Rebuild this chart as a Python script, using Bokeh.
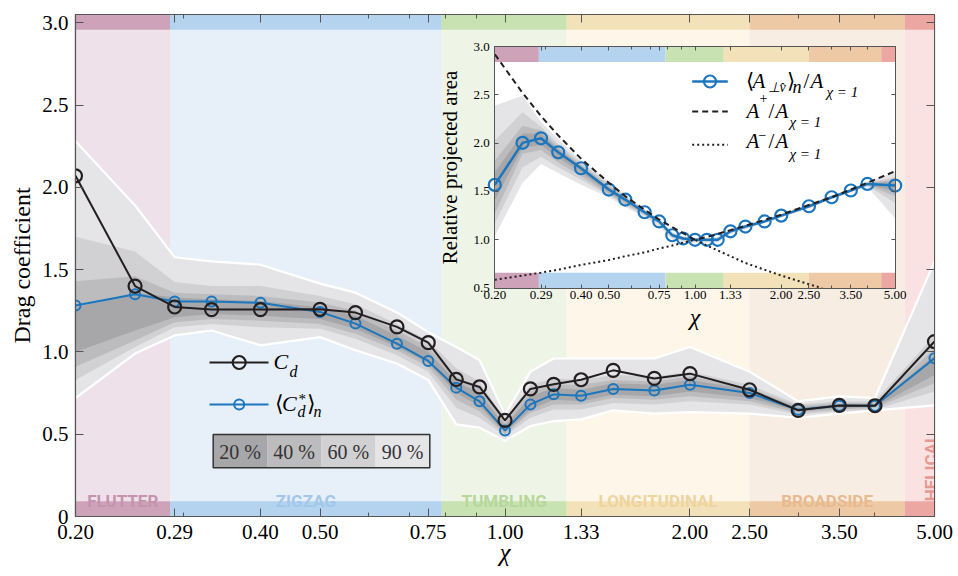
import numpy as np
from bokeh.plotting import figure
from bokeh.models import (Range1d, LogScale, LinearScale, LogAxis, LinearAxis, FixedTicker,
                          PrintfTickFormatter, CustomLabelingPolicy)
from bokeh.embed import file_html
from bokeh.resources import INLINE
from bokeh.core.properties import value

# ---------------- data ----------------
chi = [0.2, 0.25, 0.29, 0.333, 0.4, 0.5, 0.571, 0.667, 0.75, 0.833, 0.909, 1.0,
       1.1, 1.2, 1.33, 1.5, 1.75, 2.0, 2.5, 3.0, 3.5, 4.0, 5.0]
cd = [2.07, 1.40, 1.273, 1.257, 1.257, 1.259, 1.239, 1.152, 1.056, 0.833, 0.787, 0.584,
      0.775, 0.803, 0.831, 0.888, 0.839, 0.868, 0.770, 0.645, 0.675, 0.673, 1.063]
cd_star = [1.282, 1.350, 1.306, 1.306, 1.298, 1.243, 1.172, 1.050, 0.945, 0.783, 0.700, 0.523,
           0.681, 0.742, 0.734, 0.775, 0.766, 0.801, 0.750, 0.649, 0.673, 0.673, 0.961]
cd_hi90 = [2.28, 1.89, 1.575, 1.55, 1.53, 1.415, 1.36, 1.24, 1.12, 1.03, 0.95, 0.62,
           0.88, 0.96, 0.96, 0.96, 0.96, 1.03, 0.88, 0.70, 0.73, 0.72, 1.55]
cd_hi60 = [1.70, 1.61, 1.425, 1.40, 1.40, 1.34, 1.29, 1.17, 1.07, 0.90, 0.82, 0.59,
           0.80, 0.84, 0.83, 0.86, 0.85, 0.88, 0.80, 0.68, 0.70, 0.70, 1.10]
cd_hi40 = [1.43, 1.46, 1.36, 1.35, 1.34, 1.30, 1.25, 1.13, 1.03, 0.85, 0.78, 0.57,
           0.76, 0.80, 0.80, 0.83, 0.82, 0.85, 0.78, 0.67, 0.69, 0.69, 1.02]
cd_hi20 = [1.27, 1.36, 1.33, 1.32, 1.31, 1.27, 1.22, 1.10, 1.00, 0.82, 0.75, 0.55,
           0.73, 0.78, 0.77, 0.81, 0.80, 0.83, 0.77, 0.66, 0.68, 0.68, 0.98]
cd_lo20 = [1.00, 1.13, 1.21, 1.23, 1.22, 1.20, 1.14, 1.03, 0.93, 0.75, 0.67, 0.51,
           0.65, 0.71, 0.70, 0.74, 0.73, 0.76, 0.72, 0.64, 0.66, 0.665, 0.86]
cd_lo40 = [0.91, 1.07, 1.18, 1.20, 1.19, 1.17, 1.11, 1.01, 0.91, 0.71, 0.64, 0.50,
           0.63, 0.68, 0.68, 0.72, 0.71, 0.73, 0.70, 0.63, 0.65, 0.66, 0.81]
cd_lo60 = [0.83, 1.03, 1.15, 1.17, 1.15, 1.14, 1.08, 0.98, 0.88, 0.66, 0.60, 0.49,
           0.60, 0.65, 0.65, 0.69, 0.68, 0.70, 0.68, 0.62, 0.64, 0.65, 0.76]
cd_lo90 = [0.72, 0.99, 1.10, 1.13, 1.04, 1.09, 1.01, 0.93, 0.83, 0.56, 0.54, 0.46,
           0.55, 0.58, 0.59, 0.645, 0.625, 0.634, 0.625, 0.60, 0.625, 0.645, 0.675]

area = [1.568, 2.003, 2.05, 1.905, 1.74, 1.52, 1.416, 1.285, 1.19, 1.047, 1.013, 1.0,
        1.0, 1.0, 1.088, 1.137, 1.19, 1.25, 1.347, 1.44, 1.51, 1.578, 1.561]
area_hi90 = [2.39, 2.49, 2.22, 2.04, 1.82, 1.60, 1.47, 1.32, 1.22, 1.08, 1.04, 1.02,
             1.02, 1.03, 1.11, 1.16, 1.21, 1.27, 1.37, 1.46, 1.53, 1.60, 1.70]
area_hi60 = [2.03, 2.32, 2.17, 1.99, 1.80, 1.58, 1.45, 1.31, 1.21, 1.07, 1.03, 1.01,
             1.01, 1.02, 1.10, 1.15, 1.20, 1.26, 1.36, 1.45, 1.52, 1.59, 1.65]
area_hi40 = [1.82, 2.18, 2.13, 1.96, 1.78, 1.56, 1.44, 1.30, 1.20, 1.06, 1.025, 1.005,
             1.005, 1.01, 1.095, 1.145, 1.195, 1.255, 1.355, 1.45, 1.52, 1.59, 1.62]
area_hi20 = [1.70, 2.10, 2.10, 1.94, 1.76, 1.54, 1.43, 1.295, 1.195, 1.055, 1.02, 1.0,
             1.0, 1.005, 1.09, 1.14, 1.19, 1.25, 1.35, 1.445, 1.515, 1.585, 1.60]
area_lo20 = [1.41, 1.95, 1.98, 1.85, 1.70, 1.49, 1.39, 1.27, 1.18, 1.04, 1.005, 0.995,
             0.995, 0.995, 1.08, 1.13, 1.185, 1.245, 1.34, 1.435, 1.505, 1.57, 1.50]
area_lo40 = [1.27, 1.89, 1.93, 1.80, 1.66, 1.47, 1.37, 1.26, 1.17, 1.03, 1.0, 0.99,
             0.99, 0.99, 1.075, 1.125, 1.18, 1.24, 1.335, 1.43, 1.50, 1.565, 1.45]
area_lo60 = [1.17, 1.75, 1.86, 1.75, 1.62, 1.46, 1.36, 1.25, 1.16, 1.02, 0.99, 0.98,
             0.98, 0.98, 1.07, 1.12, 1.175, 1.235, 1.33, 1.425, 1.495, 1.56, 1.38]
area_lo90 = [1.04, 1.59, 1.785, 1.69, 1.57, 1.44, 1.34, 1.23, 1.14, 1.00, 0.97, 0.97,
             0.97, 0.97, 1.06, 1.11, 1.17, 1.23, 1.325, 1.42, 1.49, 1.55, 1.22]

a_plus = [2.92, 2.52, 2.28, 2.08, 1.84, 1.59, 1.45, 1.31, 1.21, 1.13, 1.07, 1.0,
          1.03, 1.06, 1.10, 1.145, 1.205, 1.26, 1.36, 1.44, 1.52, 1.59, 1.71]
chi_minus = [0.2, 0.25, 0.29, 0.333, 0.4, 0.5, 0.571, 0.667, 0.75, 0.833, 0.909, 1.0,
             1.1, 1.2, 1.33, 1.5, 1.75, 2.0, 2.5, 2.78]
a_minus = [0.585, 0.63, 0.66, 0.69, 0.74, 0.79, 0.83, 0.87, 0.91, 0.94, 0.97, 1.0,
           0.94, 0.89, 0.83, 0.76, 0.69, 0.63, 0.54, 0.50]

regime_names = ["FLUTTER", "ZIGZAG", "TUMBLING", "LONGITUDINAL", "BROADSIDE", "HELICAL"]
regime_edges = [0.2, 0.285, 0.789, 1.26, 2.5, 4.47, 5.0]

x_ticks = [0.2, 0.29, 0.4, 0.5, 0.75, 1.0, 1.33, 2.0, 2.5, 3.5, 5.0]
x_minor = [0.3, 0.6, 0.7, 0.8, 0.9, 3.0, 4.0]
y_ticks = [0, 0.5, 1.0, 1.5, 2.0, 2.5, 3.0]
inset_y_ticks = [0.5, 1.0, 1.5, 2.0, 2.5, 3.0]
pct_labels = ["20 %", "40 %", "60 %", "90 %"]

# ---------------- style ----------------
SERIF = "Liberation Serif"
BLACK = "#231f20"
BLUE = "#1b76bd"
AXC = "#555555"
REG_BG = ["#efe1e9", "#e7f0f9", "#eef5e6", "#fdf6e9", "#f8ede2", "#f9e2e1"]
REG_STRIP = ["#cea3b9", "#b3d3ef", "#c9e2b1", "#f3e2b9", "#eec9a6", "#eca7a2"]
REG_TEXT = ["#c493ad", "#a2c7eb", "#b7d79c", "#eed49f", "#e8ba90", "#e69893"]
BAND = {"90": "#e5e5e7", "60": "#d1d1d3", "40": "#bcbcbe", "20": "#a7a7aa"}
COND = value("Roboto")

# page-pixel layout of the frames
FL, FR, FT, FB = 75.0, 934.0, 14.0, 516.0
IL, IR, IT, IB = 494.3, 894.7, 46.0, 287.6
YMAX = 3.05
STRIP = 0.092

W, H = 958, 576
p = figure(width=W, height=H, x_axis_type="log",
           x_range=Range1d(0.2, 5.0), y_range=Range1d(0, YMAX),
           output_backend="svg", toolbar_location=None,
           min_border_left=int(FL), min_border_right=int(W - FR),
           min_border_top=int(FT), min_border_bottom=int(H - FB))
p.xgrid.visible = False
p.ygrid.visible = False
p.outline_line_color = AXC
p.outline_line_width = 1.2
p.background_fill_color = "white"
p.border_fill_color = "white"

# inset coordinate systems (log x / linear y) and page-pixel coordinates
lx0, lx1 = np.log10(0.2), np.log10(5.0)
kx = (lx1 - lx0) / (IR - IL)
ix_start = 10 ** (lx0 - (IL - FL) * kx)
ix_end = 10 ** (lx1 + (FR - IR) * kx)
ky = (3.0 - 0.5) / (IB - IT)
iy_start = 0.5 - (FB - IB) * ky
iy_end = 3.0 + (IT - FT) * ky
p.extra_x_ranges = {"px": Range1d(FL, FR), "ix": Range1d(ix_start, ix_end)}
p.extra_x_scales = {"px": LinearScale(), "ix": LogScale()}
p.extra_y_ranges = {"py": Range1d(FB, FT), "iy": Range1d(iy_start, iy_end)}
p.extra_y_scales = {"py": LinearScale(), "iy": LinearScale()}
PX = dict(x_range_name="px", y_range_name="py")
IN = dict(x_range_name="ix", y_range_name="iy")

hide_labels = dict(
    major_label_text_font_size="1px", major_label_standoff=0,
    major_label_policy=CustomLabelingPolicy(
        code="for (const i of Array.from(indices)) { indices.unset(i) }\nreturn indices"))

# ---------------- main axes ----------------
xa = p.xaxis[0]
xa.ticker = FixedTicker(ticks=x_ticks, minor_ticks=x_minor)
xa.formatter = PrintfTickFormatter(format="%.2f")
xa.axis_label = "χ"
xa.axis_label_text_font = SERIF
xa.axis_label_text_font_size = "25px"
xa.axis_label_text_font_style = "italic"
xa.axis_label_text_color = "black"
xa.axis_label_standoff = -3
ya = p.yaxis[0]
ya.ticker = FixedTicker(ticks=y_ticks)
ya.formatter = PrintfTickFormatter(format="%.1f")
ya.major_label_overrides = {0: "0"}
ya.axis_label = "Drag coefficient"
ya.axis_label_text_font = SERIF
ya.axis_label_text_font_size = "24px"
ya.axis_label_text_font_style = "normal"
ya.axis_label_text_color = "black"
ya.axis_label_standoff = 4
for ax in (xa, ya):
    ax.major_label_text_font = SERIF
    ax.major_label_text_font_size = "21px"
    ax.major_label_text_color = "black"
    ax.major_label_standoff = 7
    ax.axis_line_color = AXC
    ax.axis_line_width = 1.2
    ax.major_tick_line_color = AXC
    ax.minor_tick_line_color = AXC
    ax.major_tick_in = 8
    ax.major_tick_out = 0
    ax.minor_tick_in = 4
    ax.minor_tick_out = 0
xa.major_label_standoff = 8
ya.minor_tick_in = 0

top_ax = LogAxis(ticker=FixedTicker(ticks=x_ticks, minor_ticks=x_minor),
                 major_tick_in=8, major_tick_out=0, minor_tick_in=4, minor_tick_out=0,
                 axis_line_color=AXC, major_tick_line_color=AXC, minor_tick_line_color=AXC,
                 **hide_labels)
p.add_layout(top_ax, "above")
right_ax = LinearAxis(ticker=FixedTicker(ticks=y_ticks),
                      major_tick_in=8, major_tick_out=0, minor_tick_in=0, minor_tick_out=0,
                      axis_line_color=AXC, major_tick_line_color=AXC, **hide_labels)
p.add_layout(right_ax, "right")

# ---------------- regimes ----------------
lefts = regime_edges[:-1]
rights = regime_edges[1:]
p.quad(left=lefts, right=rights, bottom=0, top=YMAX, fill_color=REG_BG, line_color=None)
p.quad(left=lefts, right=rights, bottom=0, top=STRIP, fill_color=REG_STRIP, line_color=None)
p.quad(left=lefts, right=rights, bottom=YMAX - STRIP, top=YMAX, fill_color=REG_STRIP, line_color=None)

centers = [float(np.sqrt(a * b)) for a, b in zip(lefts[:-1], rights[:-1])]
p.text(x=centers, y=[STRIP] * len(centers), text=regime_names[:-1],
       text_color=REG_TEXT[:-1], text_font=COND, text_font_style="bold",
       text_font_size="17px", text_align="center", text_baseline="alphabetic", y_offset=0)
p.text(x=[rights[-1]], y=[STRIP], text=[regime_names[-1]], angle=np.pi / 2,
       text_color=REG_TEXT[-1], text_font=COND, text_font_style="bold",
       text_font_size="17px", text_align="left", text_baseline="alphabetic", x_offset=-4, y_offset=0)

# ---------------- main bands and lines ----------------
for key, lo, hi in [("90", cd_lo90, cd_hi90), ("60", cd_lo60, cd_hi60),
                    ("40", cd_lo40, cd_hi40), ("20", cd_lo20, cd_hi20)]:
    p.varea(x=chi, y1=lo, y2=hi, fill_color=BAND[key])
p.line(chi, cd_hi90, line_color="white", line_width=2.2)
p.line(chi, cd_lo90, line_color="white", line_width=2.2)

p.line(chi, cd_star, line_color=BLUE, line_width=2)
p.scatter(chi, cd_star, marker="circle", size=10, fill_alpha=0, line_color=BLUE, line_width=2)
p.line(chi, cd, line_color=BLACK, line_width=2)
p.scatter(chi, cd, marker="circle", size=13, fill_alpha=0, line_color=BLACK, line_width=2.2)

# ---------------- main legend ----------------
p.line([209, 268], [362, 362], line_color=BLACK, line_width=2, **PX)
p.scatter([238.7], [362], marker="circle", size=13, fill_alpha=0, line_color=BLACK, line_width=2.2, **PX)
p.line([209, 268], [404, 404], line_color=BLUE, line_width=2, **PX)
p.scatter([238.7], [404], marker="circle", size=10, fill_alpha=0, line_color=BLUE, line_width=2, **PX)

def txt(x, y, s, size, style="normal", color="black", align="left", font=SERIF):
    p.text(x=[x], y=[y], text=[s], text_font=value(font), text_font_size=f"{size}px",
           text_font_style=style, text_color=color, text_align=align,
           text_baseline="middle", **PX)

txt(273, 361, "C", 22, "italic")
txt(289, 371, "d", 16, "italic")
txt(274, 403, "⟨", 22)
txt(281.5, 403, "C", 22, "italic")
txt(298, 398, "*", 15)
txt(297, 411, "d", 16, "italic")
txt(306, 403, "⟩", 22)
txt(313, 411, "n", 16, "italic")

# percentile legend
cell_l = [212.7, 266.7, 320.7, 375.0]
cell_r = [266.7, 320.7, 375.0, 429.3]
p.quad(left=cell_l, right=cell_r, bottom=467.3, top=434.0,
       fill_color=[BAND["20"], BAND["40"], BAND["60"], BAND["90"]], line_color=None, **PX)
p.quad(left=[212.7], right=[429.3], bottom=[467.3], top=[434.0], fill_color=None,
       line_color="#333333", line_width=1.5, **PX)
p.text(x=[(a + b) / 2 for a, b in zip(cell_l, cell_r)], y=[451] * 4, text=pct_labels,
       text_font=value(SERIF), text_font_size="20px", text_color="#333333",
       text_align="center", text_baseline="middle", **PX)

# ---------------- inset ----------------
p.quad(left=[0.2], right=[5.0], bottom=[0.5], top=[3.0], fill_color="white", line_color=None, **IN)
p.quad(left=lefts, right=rights, bottom=0.5, top=0.66, fill_color=REG_STRIP, line_color=None, **IN)
p.quad(left=lefts, right=rights, bottom=2.84, top=3.0, fill_color=REG_STRIP, line_color=None, **IN)
for key, lo, hi in [("90", area_lo90, area_hi90), ("60", area_lo60, area_hi60),
                    ("40", area_lo40, area_hi40), ("20", area_lo20, area_hi20)]:
    p.varea(x=chi, y1=lo, y2=hi, fill_color=BAND[key], **IN)
p.line(chi, area, line_color=BLUE, line_width=2.5, **IN)
p.scatter(chi, area, marker="circle", size=12, fill_alpha=0, line_color=BLUE, line_width=2.2, **IN)
p.line(chi, a_plus, line_color=BLACK, line_width=2, line_dash="6 4", **IN)
p.line(chi_minus, a_minus, line_color=BLACK, line_width=2, line_dash="2 3", **IN)

ib = LogAxis(fixed_location=0.5, bounds=(0.2, 5.0),
             ticker=FixedTicker(ticks=x_ticks, minor_ticks=x_minor),
             formatter=PrintfTickFormatter(format="%.2f"),
             axis_label="χ", axis_label_text_font=SERIF, axis_label_text_font_size="24px",
             axis_label_text_font_style="italic", axis_label_standoff=1, **IN)
it = LogAxis(fixed_location=3.0, bounds=(0.2, 5.0),
             ticker=FixedTicker(ticks=x_ticks, minor_ticks=x_minor), **hide_labels, **IN)
il = LinearAxis(fixed_location=0.2, bounds=(0.5, 3.0), ticker=FixedTicker(ticks=inset_y_ticks),
                formatter=PrintfTickFormatter(format="%.1f"),
                axis_label="Relative projected area", axis_label_text_font=SERIF,
                axis_label_text_font_size="21px", axis_label_text_font_style="normal",
                axis_label_standoff=8, **IN)
ir = LinearAxis(fixed_location=5.0, bounds=(0.5, 3.0), ticker=FixedTicker(ticks=inset_y_ticks),
                **hide_labels, **IN)
for ax in (ib, it, il, ir):
    ax.major_label_text_font = SERIF
    ax.major_label_text_color = "black"
    ax.axis_line_color = AXC
    ax.major_tick_line_color = AXC
    ax.minor_tick_line_color = AXC
    ax.major_tick_in = 4
    ax.major_tick_out = 0
    ax.minor_tick_in = 3
    ax.minor_tick_out = 0
    ax.axis_label_text_color = "black"
ib.major_label_text_font_size = "13px"
il.major_label_text_font_size = "13px"
ib.major_label_standoff = 3
il.major_label_standoff = 5
il.minor_tick_in = 0
ir.minor_tick_in = 0
p.add_layout(ib, "below")
p.add_layout(it, "above")
p.add_layout(il, "left")
p.add_layout(ir, "right")

# inset legend
p.line([691.7, 727.3], [81, 81], line_color=BLUE, line_width=2.5, **PX)
p.scatter([709.5], [81], marker="circle", size=12, fill_alpha=0, line_color=BLUE, line_width=2.2, **PX)
p.line([691.7, 727.3], [111, 111], line_color=BLACK, line_width=2, line_dash="6 4", **PX)
p.line([691.7, 727.3], [144.3, 144.3], line_color=BLACK, line_width=2, line_dash="2 3", **PX)

txt(745, 80.5, "⟨", 21)
txt(752, 80.5, "A", 21, "italic")
txt(767, 87, "⊥v̂", 14, "italic")
txt(786, 80.5, "⟩", 21)
txt(792, 86, "n", 18, "italic")
txt(803, 80.5, "/", 21)
txt(810, 80.5, "A", 21, "italic")
txt(826, 91.5, "χ = 1", 15, "italic")

txt(746, 110, "A", 21, "italic")
txt(759, 97, "+", 14)
txt(768, 110, "/", 21)
txt(775, 110, "A", 21, "italic")
txt(789, 121, "χ = 1", 15, "italic")

txt(746, 140, "A", 21, "italic")
txt(758, 134, "−", 14)
txt(768, 140, "/", 21)
txt(775, 140, "A", 21, "italic")
txt(789, 153, "χ = 1", 15, "italic")

open("out.html", "w").write(file_html(p, INLINE))
